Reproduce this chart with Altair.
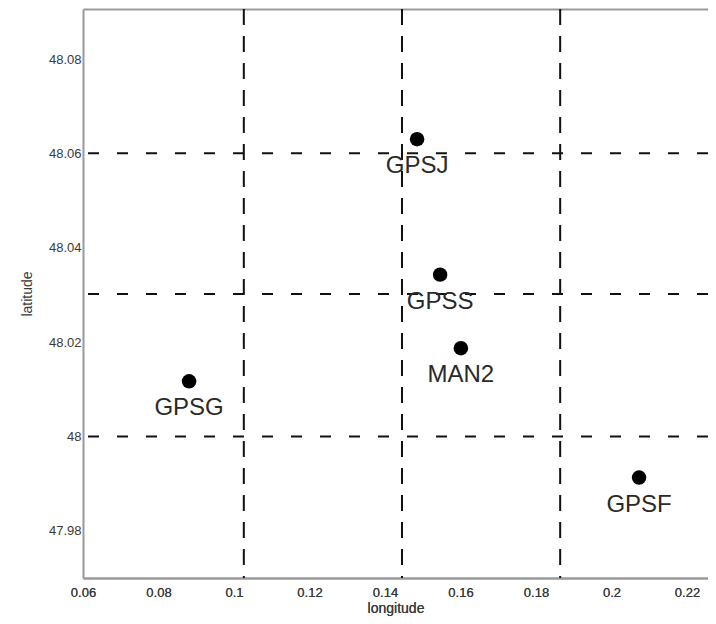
import altair as alt
import pandas as pd

# Station data
stations = ["GPSJ", "GPSS", "MAN2", "GPSG", "GPSF"]
lons = [0.1485, 0.1546, 0.1601, 0.0881, 0.2073]
lats = [48.0630, 48.0343, 48.0187, 48.0117, 47.9913]

# Dashed grid lines
vlines_lon = [0.1026, 0.1445, 0.1864]
hlines_lat = [48.0, 48.0302, 48.06]

# Tick labels
x_ticks = [0.06, 0.08, 0.10, 0.12, 0.14, 0.16, 0.18, 0.20, 0.22]
y_ticks = [47.98, 48.00, 48.02, 48.04, 48.06, 48.08]

x_domain = [0.06, 0.22556]
y_domain = [47.97, 48.0906]

pts = pd.DataFrame({"station": stations, "lon": lons, "lat": lats})
vdf = pd.DataFrame({"lon": vlines_lon})
hdf = pd.DataFrame({"lat": hlines_lat})

xscale = alt.Scale(domain=x_domain, nice=False, zero=False)
yscale = alt.Scale(domain=y_domain, nice=False, zero=False)

x_axis = alt.Axis(values=x_ticks, format=".6~f", ticks=False, grid=False,
                  labelFlush=False, labelPadding=8, titlePadding=2)
y_axis = alt.Axis(values=y_ticks, format=".6~f", ticks=False, grid=False,
                  labelFlush=False, labelPadding=2, titlePadding=14)

X = alt.X("lon:Q", scale=xscale, axis=x_axis, title="longitude")
Y = alt.Y("lat:Q", scale=yscale, axis=y_axis, title="latitude")

points = alt.Chart(pts).mark_circle(size=210, color="black", opacity=1).encode(x=X, y=Y)

labels = alt.Chart(pts).mark_text(
    dy=27, fontSize=24, font="Liberation Sans", color="#2a2a2a"
).encode(x=X, y=Y, text="station:N")

vrules = alt.Chart(vdf).mark_rule(color="#111", strokeWidth=2, strokeDash=[16, 11]).encode(
    x=alt.X("lon:Q", scale=xscale,
            axis=alt.Axis(orient="top", labels=False, ticks=False, grid=False,
                          title=None, domainColor="#999", domainWidth=2)),
)

hrules = alt.Chart(hdf).mark_rule(color="#111", strokeWidth=2, strokeDash=[11, 18]).encode(y=Y)

chart = (
    alt.layer(hrules, vrules, points, labels)
    .resolve_axis(x="independent")
    .properties(
        width=625,
        height=569,
        autosize=alt.AutoSizeParams(type="none"),
        padding={"left": 75, "top": 1, "right": 0, "bottom": 38},
        background="white",
    )
    .configure_view(stroke=None)
    .configure_axis(
        labelFont="Liberation Sans",
        labelFontSize=13,
        labelColor="#3a3a3a",
        titleFont="Liberation Sans",
        titleFontSize=14,
        titleFontWeight="normal",
        titleColor="#3a3a3a",
        domainColor="#999",
        domainWidth=2,
    )
)

chart.save("out.html", embed_options={"renderer": "svg", "actions": False})
